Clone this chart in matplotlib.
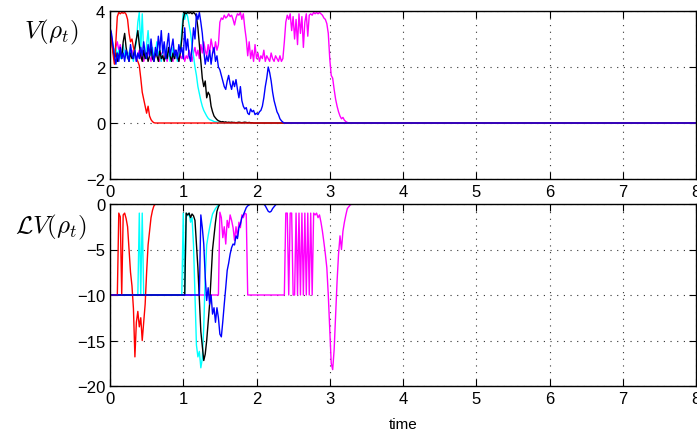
import numpy as np
import matplotlib
matplotlib.use('Agg')
import matplotlib.pyplot as plt

DT = 0.02      # sample spacing of the traces below
T_END = 8.0    # each trace holds its last value up to here

# V(rho_t), one list per run, sampled every DT from t = 0
v_red = [3.4, 3.0, 2.5, 2.1, 2.9, 3.8, 3.95, 3.9, 3.95, 3.92, 3.95, 3.88, 3.7, 3.2,
         2.9, 3.0, 2.7, 2.5, 2.3, 2.2, 2.05, 1.6, 1.1, 0.85, 0.6, 0.35, 0.6, 0.25,
         0.12, 0.05, 0.01, 0.0]
v_cyan = [3.4, 3.1, 2.8, 2.5, 2.7, 2.4, 2.6, 2.3, 2.5, 2.8, 2.4, 2.6, 2.3, 2.5, 2.7,
          2.4, 2.2, 2.6, 2.9, 3.6, 3.95, 2.6, 3.9, 2.5, 2.3, 2.8, 3.3, 2.6, 2.4, 2.7,
          2.3, 2.5, 2.9, 2.4, 2.6, 2.2, 2.5, 2.8, 2.4, 2.3, 2.6, 2.2, 2.4, 2.7, 2.3,
          2.5, 2.2, 2.4, 2.6, 3.3, 3.9, 3.7, 3.95, 3.8, 3.5, 3.2, 2.8, 2.4, 2.0, 1.7,
          1.3, 1.05, 0.8, 0.6, 0.45, 0.35, 0.25, 0.17, 0.12, 0.1, 0.08, 0.05, 0.04,
          0.03, 0.02, 0.01, 0.0]
v_black = [3.4, 3.0, 2.6, 2.3, 2.5, 2.2, 2.4, 2.6, 2.3, 2.9, 3.2, 2.7, 2.4, 2.2, 2.5,
           2.3, 2.4, 2.7, 3.0, 3.3, 2.8, 2.4, 2.2, 2.6, 2.3, 2.5, 2.2, 2.4, 2.7, 2.3,
           2.2, 2.5, 2.4, 2.2, 2.6, 2.3, 2.4, 2.2, 2.5, 2.3, 2.7, 2.4, 2.2, 2.5, 2.3,
           2.6, 2.4, 2.2, 2.5, 3.0, 3.7, 3.95, 3.9, 3.95, 3.92, 3.95, 3.9, 3.95, 3.9,
           3.8, 3.4, 2.8, 2.2, 1.6, 1.3, 1.5, 0.9, 1.1, 1.0, 0.6, 0.4, 0.25, 0.18, 0.12,
           0.08, 0.06, 0.04, 0.05, 0.03, 0.04, 0.02, 0.03, 0.02, 0.03, 0.02, 0.02, 0.01,
           0.02, 0.03, 0.02, 0.01, 0.02, 0.03, 0.02, 0.01, 0.02, 0.01, 0.01, 0.0]
v_blue = [3.4, 3.2, 2.8, 2.4, 2.1, 2.5, 2.2, 2.7, 2.3, 2.5, 2.2, 2.6, 2.4, 2.2, 2.8,
          2.4, 2.3, 2.6, 2.2, 2.5, 2.3, 2.7, 2.4, 2.9, 2.5, 2.3, 2.8, 2.4, 3.0, 2.5,
          2.2, 2.7, 2.4, 3.1, 2.6, 3.3, 2.5, 2.9, 2.3, 2.8, 3.2, 2.4, 2.7, 3.0, 2.4,
          2.6, 2.3, 2.8, 2.5, 2.7, 2.3, 3.4, 2.6, 3.0, 2.4, 2.2, 2.7, 3.4, 3.0, 3.9,
          3.7, 3.95, 3.6, 3.2, 2.6, 2.1, 2.4, 2.2, 2.6, 2.1, 2.5, 2.7, 2.2, 2.4, 2.0,
          1.9, 1.7, 1.5, 1.3, 1.2, 1.5, 1.7, 1.4, 1.2, 1.5, 1.3, 1.55, 1.2, 0.9, 1.3,
          0.8, 0.6, 0.5, 0.55, 0.35, 0.3, 0.5, 0.4, 0.45, 0.3, 0.35, 0.3, 0.4, 0.45,
          0.6, 0.9, 1.3, 1.6, 2.0, 1.8, 1.5, 1.1, 0.8, 0.6, 0.4, 0.3, 0.15, 0.08, 0.03,
          0.0]
v_magenta = [3.4, 3.1, 2.7, 2.5, 2.7, 2.9, 2.6, 2.8, 2.5, 2.7, 2.4, 2.6, 2.3, 2.5, 2.4,
             2.6, 2.3, 2.5, 2.2, 2.4, 2.6, 2.3, 2.5, 2.2, 2.4, 2.3, 2.6, 2.4, 2.2, 2.5,
             2.3, 2.4, 2.6, 2.3, 2.2, 2.5, 2.3, 2.7, 2.4, 2.2, 2.5, 2.3, 2.4, 2.2, 2.6,
             2.3, 2.5, 2.2, 2.4, 2.3, 2.5, 2.2, 2.4, 2.3, 2.6, 2.4, 2.2, 2.5, 2.7, 2.4,
             2.6, 2.3, 2.8, 2.5, 2.9, 2.6, 2.4, 2.8, 2.5, 3.0, 2.7, 2.5, 2.9, 2.6, 2.8,
             3.6, 3.75, 3.7, 3.85, 3.75, 3.8, 3.9, 3.8, 3.85, 3.7, 3.5, 3.75, 3.9, 3.85,
             3.95, 3.7, 3.9, 3.4, 3.0, 2.4, 2.9, 2.3, 2.6, 2.2, 2.8, 2.3, 2.5, 2.2, 2.4,
             2.3, 2.6, 2.2, 2.4, 2.3, 2.2, 2.5, 2.3, 2.2, 2.4, 2.3, 2.2, 2.4, 2.2, 2.3,
             2.9, 3.6, 3.85, 3.7, 3.9, 3.3, 3.8, 3.0, 3.7, 2.8, 3.9, 3.2, 3.8, 2.7, 3.6,
             3.9, 3.1, 3.85, 3.9, 3.85, 3.95, 3.9, 3.95, 3.9, 3.95, 3.9, 3.85, 3.75, 3.7,
             3.55, 3.2, 2.3, 1.7, 1.6, 1.2, 0.85, 0.6, 0.4, 0.25, 0.15, 0.2, 0.1, 0.05,
             0.02, 0.0]

# LV(rho_t), same sampling
lv_red = [-10.0] * 6 + [-1.0, -1.4, -10.0, -1.2, -1.0, -1.6, -2.5, -5.0, -7.5, -9.0,
                        -11.5, -16.8, -13.0, -11.8, -13.5, -12.5, -15.0, -13.0, -11.0,
                        -7.5, -4.5, -3.0, -1.5, -0.7, -0.2, 0.0]
lv_cyan = ([-10.0] * 20 + [-1.0, -10.0, -1.0] + [-10.0] * 27 +
           [-1.0, -10.0, -1.0, -1.3, -1.0, -2.0, -1.5, -4.5, -10.0, -15.5, -16.8,
            -16.2, -18.0, -17.0, -13.5, -8.0, -4.5, -3.5, -2.6, -1.8, -1.1, -0.8, -0.5,
            -0.3, -0.1, 0.0])
lv_black = [-10.0] * 52 + [-1.0, -1.2, -1.0, -1.5, -1.1, -1.3, -1.8, -4.4, -7.0, -10.5,
                           -14.0, -15.6, -17.2, -16.5, -15.0, -13.0, -11.0, -8.0, -5.0,
                           -3.5, -2.0, -0.8, -0.3, 0.0]
lv_blue = ([-10.0] * 62 +
           [-1.2, -2.6, -4.4, -8.0, -10.6, -9.2, -11.0, -10.0, -12.1, -11.4, -13.0,
            -11.4, -12.5, -14.3, -14.6, -12.9, -11.0, -9.2, -7.3, -6.5, -5.5, -4.8,
            -4.4, -4.5, -3.5, -3.8, -2.6, -2.2, -1.5, -1.2, -0.8, -0.4, -0.2, -0.1] +
           [0.0] * 10 +
           [-0.2, -0.5, -0.8, -0.9, -0.8, -0.5, -0.3, -0.1, 0.0])
lv_magenta = ([-10.0] * 75 +
              [-0.9, -1.5, -3.7, -2.5, -4.4, -1.8, -2.6, -1.2, -1.8, -2.6, -4.0, -2.5,
               -3.6, -2.0, -2.6, -1.2, -1.5, -1.0, -1.1] +
              [-10.0] * 26 +
              [-1.0, -1.0, -10.0, -1.0, -1.0, -10.0, -10.0, -1.0, -10.0, -1.0, -10.0,
               -1.0, -10.0, -1.0, -10.0, -1.0, -10.0, -1.0, -10.0, -1.0, -1.2, -1.0,
               -1.5, -1.2, -2.0, -3.0, -4.2, -5.5, -7.0, -10.0, -13.7, -17.5, -18.2,
               -16.0, -12.3, -8.5, -5.5, -3.5, -5.0, -3.0, -2.0, -1.2, -0.5, -0.3, -0.1,
               0.0])

# drawing order: later ones on top
runs = [('#ff00ff', v_magenta, lv_magenta),
        ('#00ffff', v_cyan, lv_cyan),
        ('#000000', v_black, lv_black),
        ('#ff0000', v_red, lv_red),
        ('#0000ff', v_blue, lv_blue)]


def trace(vals):
    t = np.arange(len(vals)) * DT
    return np.append(t, T_END), np.append(vals, vals[-1])


plt.rcParams['font.family'] = ['Liberation Sans', 'DejaVu Sans']
plt.rcParams['mathtext.fontset'] = 'cm'

fig = plt.figure(figsize=(6.97, 4.35), dpi=100)
ax1 = fig.add_axes([110 / 697, 1 - 180 / 435, 586 / 697, 168 / 435])
ax2 = fig.add_axes([110 / 697, 1 - 387 / 435, 586 / 697, 182 / 435])

for color, v, lv in runs:
    ax1.plot(*trace(v), color=color, lw=1.0)
    ax2.plot(*trace(lv), color=color, lw=1.0)

ax1.set_ylim(-2, 4)
ax1.set_yticks([-2, 0, 2, 4])
ax2.set_ylim(-20, 0)
ax2.set_yticks([-20, -15, -10, -5, 0])
for ax in (ax1, ax2):
    ax.set_xlim(0, 8)
    ax.set_xticks(range(9))
    ax.grid(True, color='#333333', linestyle=(0, (1, 5)), linewidth=0.8)
    ax.tick_params(direction='in', length=5, labelsize=12, top=True, right=True)
    for s in ax.spines.values():
        s.set_linewidth(1.0)

ax2.set_xlabel('time', fontsize=11, labelpad=8)
fig.text(51 / 697, 1 - 32 / 435, r'$V(\rho_t)$', fontsize=18, ha='center', va='center')
fig.text(51 / 697, 1 - 227 / 435, r'$\mathcal{L}V(\rho_t)$', fontsize=18,
         ha='center', va='center')

fig.savefig('out.png', dpi=100)
